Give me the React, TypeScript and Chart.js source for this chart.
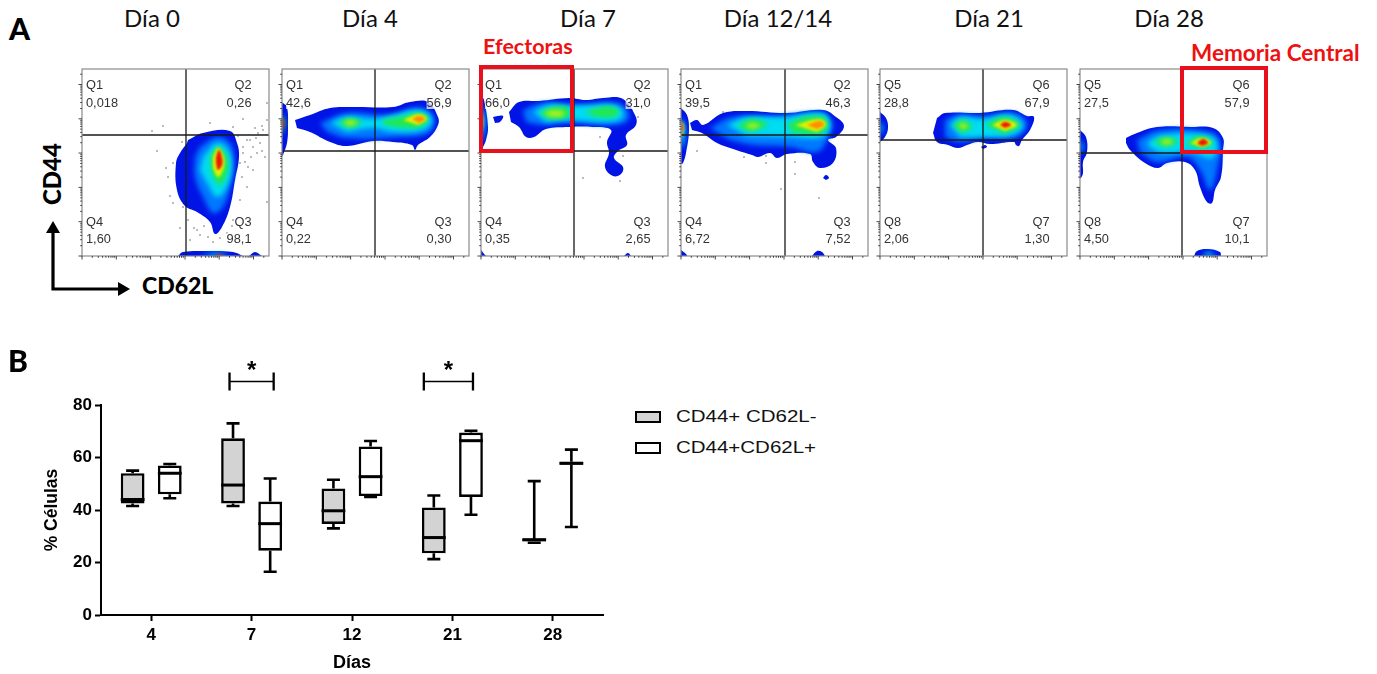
import React, { useEffect, useRef } from "react";
import { Chart, registerables } from "chart.js";

type Pt = [number, number];
type Blob = [string, Pt[]];

// ---------- Panel A: flow cytometry data (CD62L on x, CD44 on y, both on a 0-187 display scale) ----------
const levelColors: Record<string, string> = {
  blue: "#0014e6", mid: "#0078ff", cyan: "#00dcf0", green: "#20e850", lime: "#a8f020", yellow: "#e6f000", orange: "#ff9000", red: "#ee1800",
};
const levelBlur: Record<string, number> = { blue: 0, mid: 2.5, cyan: 2.5, green: 2, lime: 2, yellow: 1.5, orange: 1.2, red: 1.2 };

const day0Blobs: Blob[] = [
  ["blue", [[106,116],[121,123],[148,125],[155,113],[157,99],[153,76],[148,49],[140,29],[133,22],[128,34],[115,44],[103,50],[95,66],[94,93],[98,103],[105,113]]],
  ["mid", [[118,109],[135,119],[148,113],[152,96],[149,73],[141,49],[131,43],[121,59],[113,79],[113,99]]],
  ["cyan", [[121,99],[135,113],[146,106],[150,89],[145,69],[135,59],[125,73],[118,86]]],
  ["green", [[128,99],[136,109],[145,99],[145,83],[138,71],[130,81]]],
  ["yellow", [[131,99],[136,108],[142,98],[141,86],[136,79],[131,88]]],
  ["red", [[134,99],[137,106],[140,98],[140,91],[136,86],[134,93]]],
  ["blue", [[96,0],[101,4],[125,5],[151,4],[161,0]]],
  ["cyan", [[118,0],[135,3],[148,0]]],
  ["red", [[133,0],[137,2],[142,0]]],
  ["blue", [[167,0],[173,4],[180,0]]],
];
const day0Dots: Pt[] = [[70,125],[81,130],[75,105],[100,114],[91,93],[86,79],[91,53],[101,49],[98,28],[106,36],[115,26],[118,21],[126,19],[138,18],[145,23],[108,16],[128,133],[151,129],[161,137],[173,128],[180,130],[185,136],[185,153],[165,116],[171,109],[161,103],[178,113],[183,99],[166,89],[160,79],[175,103],[165,69],[158,56],[185,54],[151,36],[161,109],[168,116],[181,126],[158,93],[171,86],[176,123],[88,60],[84,88],[163,94],[169,99],[174,118],[180,105],[156,120],[112,28],[122,30],[131,14],[150,30]];

const day4Blobs: Blob[] = [
  ["blue", [[1,153],[5,149],[6,129],[5,113],[1,101],[0,100],[0,153]]],
  ["green", [[0,143],[3,134],[0,119]]],
  ["red", [[0,139],[2,133],[0,124]]],
  ["blue", [[13,136],[28,141],[48,148],[71,149],[111,149],[128,154],[146,154],[156,139],[156,131],[148,119],[136,111],[133,106],[130,111],[111,114],[91,115],[65,110],[48,114],[28,124],[15,128]]],
  ["mid", [[38,133],[65,143],[108,141],[135,148],[151,141],[148,124],[118,119],[65,118],[45,124]]],
  ["cyan", [[48,133],[65,139],[91,137],[111,141],[138,146],[150,136],[141,126],[111,124],[91,128],[65,124]]],
  ["green", [[56,133],[68,138],[80,133],[68,128]]],
  ["green", [[101,136],[118,139],[138,143],[146,137],[138,129],[115,129],[101,132]]],
  ["lime", [[61,133],[68,136],[75,133],[68,130]]],
  ["yellow", [[121,136],[137,142],[145,137],[136,131]]],
  ["orange", [[130,137],[137,140],[143,137],[137,133]]],
];
const day7Blobs: Blob[] = [
  ["blue", [[0,161],[3,156],[7,129],[5,116],[2,109],[0,106]]],
  ["cyan", [[0,154],[4,136],[2,119],[0,114]]],
  ["yellow", [[0,146],[2,134],[0,124]]],
  ["red", [[0,138],[1,133],[0,128]]],
  ["blue", [[12,139],[22,140],[19,134],[14,133]]],
  ["blue", [[28,144],[38,154],[58,155],[88,158],[105,156],[122,158],[142,157],[154,141],[155,131],[145,121],[146,111],[137,105],[133,98],[142,89],[140,82],[132,80],[124,89],[128,103],[126,114],[130,126],[112,129],[88,129],[65,127],[53,119],[45,119],[38,129],[30,134]]],
  ["mid", [[42,146],[62,153],[88,152],[105,151],[128,154],[145,148],[147,136],[132,131],[88,133],[62,131],[45,134]]],
  ["cyan", [[52,144],[68,151],[88,150],[115,151],[138,149],[142,139],[128,134],[88,136],[65,134]]],
  ["green", [[58,143],[72,149],[87,148],[87,139],[68,137]]],
  ["green", [[105,144],[115,148],[132,149],[138,144],[132,139],[115,139]]],
  ["lime", [[63,143],[72,146],[83,144],[82,140],[70,139]]],
  ["blue", [[0,6],[4,1],[5,0],[0,0]]],
  ["blue", [[143,0],[147,3],[150,0]]],
];
const day7Dots: Pt[] = [[102,78],[139,75],[157,139],[119,119],[142,100]];

const day12Blobs: Blob[] = [
  ["blue", [[0,148],[6,141],[8,126],[5,103],[2,93],[0,92]]],
  ["cyan", [[0,139],[4,129],[3,113],[0,106]]],
  ["yellow", [[0,136],[3,129],[0,116]]],
  ["red", [[0,133],[2,129],[0,123]]],
  ["blue", [[9,133],[16,136],[22,131],[42,143],[66,145],[106,143],[142,146],[155,139],[163,130],[155,119],[147,116],[155,108],[152,93],[139,88],[132,94],[129,102],[106,102],[96,98],[89,103],[77,99],[71,101],[55,106],[36,113],[21,123],[11,126]]],
  ["mid", [[29,128],[52,139],[89,139],[136,143],[151,134],[146,116],[136,104],[109,109],[72,111],[49,116]]],
  ["cyan", [[46,131],[66,139],[106,139],[142,143],[149,131],[142,119],[106,119],[66,120]]],
  ["green", [[56,130],[71,137],[86,131],[69,124]]],
  ["green", [[106,131],[119,138],[142,139],[147,131],[139,122],[112,123]]],
  ["lime", [[64,130],[71,133],[79,130],[71,127]]],
  ["yellow", [[114,131],[139,137],[145,131],[136,124]]],
  ["orange", [[126,131],[139,135],[143,131],[136,127]]],
  ["blue", [[142,78],[145,81],[148,78],[145,76]]],
  ["blue", [[0,6],[5,2],[6,0],[0,0]]],
  ["blue", [[131,0],[136,5],[141,4],[144,0]]],
];
const day12Dots: Pt[] = [[42,144],[16,105],[63,99],[85,93],[114,82],[100,67],[138,58],[114,94],[85,100]];

const day21Blobs: Blob[] = [
  ["blue", [[0,144],[6,138],[8,128],[5,119],[0,114]]],
  ["cyan", [[0,136],[3,128],[0,119]]],
  ["blue", [[57,138],[65,143],[100,143],[133,146],[147,140],[154,139],[150,126],[142,116],[139,110],[136,111],[134,114],[110,112],[98,114],[87,111],[78,108],[68,111],[57,114],[53,123]]],
  ["mid", [[65,136],[77,141],[103,140],[133,143],[147,133],[137,119],[103,118],[80,114],[65,119]]],
  ["cyan", [[70,131],[80,139],[103,137],[130,141],[143,131],[132,121],[103,119],[80,119]]],
  ["green", [[73,130],[82,136],[92,129],[82,123]]],
  ["green", [[105,131],[123,139],[140,131],[125,122]]],
  ["lime", [[78,130],[83,133],[88,129],[83,127]]],
  ["yellow", [[112,131],[125,136],[137,131],[125,125]]],
  ["red", [[120,131],[125,134],[131,131],[125,128]]],
  ["blue", [[101,109],[105,111],[107,109],[103,107]]],
];
const day28Blobs: Blob[] = [
  ["blue", [[0,126],[6,119],[7,104],[3,94],[3,83],[1,78],[0,78]]],
  ["cyan", [[0,118],[3,109],[0,101]]],
  ["blue", [[46,118],[57,123],[77,129],[110,129],[133,128],[143,118],[143,106],[141,79],[135,66],[132,53],[127,54],[120,69],[115,86],[105,94],[87,93],[78,88],[65,93],[50,106],[46,113]]],
  ["mid", [[57,116],[80,126],[130,124],[140,114],[137,86],[130,66],[120,86],[107,99],[77,94],[60,104]]],
  ["cyan", [[67,114],[83,121],[127,121],[137,113],[132,98],[110,104],[83,103],[70,108]]],
  ["green", [[73,114],[85,119],[98,114],[85,109]]],
  ["green", [[105,113],[120,120],[133,113],[122,107]]],
  ["lime", [[80,114],[87,117],[93,114],[86,111]]],
  ["yellow", [[110,113],[122,118],[131,113],[122,109]]],
  ["red", [[117,113],[123,117],[128,113],[122,110]]],
  ["blue", [[114,0],[117,5],[128,7],[140,4],[141,0]]],
  ["cyan", [[122,0],[128,4],[137,0]]],
];

const dayTitles = ["Día 0", "Día 4", "Día 7", "Día 12/14", "Día 21", "Día 28"];
const titleCenters = [152, 370, 588, 778, 989, 1169];
const panelLefts = [82, 282, 481, 681, 880, 1080];
const gateNames = [["Q1","Q2","Q3","Q4"],["Q1","Q2","Q3","Q4"],["Q1","Q2","Q3","Q4"],["Q1","Q2","Q3","Q4"],["Q5","Q6","Q7","Q8"],["Q5","Q6","Q7","Q8"]];
const gateValues = [
  ["0,018","0,26","98,1","1,60"],
  ["42,6","56,9","0,30","0,22"],
  ["66,0","31,0","2,65","0,35"],
  ["39,5","46,3","7,52","6,72"],
  ["28,8","67,9","1,30","2,06"],
  ["27,5","57,9","10,1","4,50"],
];
const gateX = [104, 93, 93, 104, 103, 102];
const gateY = [121, 105, 105, 121, 116, 103];
const panelBlobs = [day0Blobs, day4Blobs, day7Blobs, day12Blobs, day21Blobs, day28Blobs];
const panelDots: Pt[][] = [day0Dots, [], day7Dots, day12Dots, [], []];

// ---------- Panel B: box plot ----------
const dayCategories = ["4", "7", "12", "21", "28"];
const effLow = [41.5, 41.5, 33, 21.3, 27.5];
const effQ1 = [42.5, 42.5, 34.7, 23.5, 28];
const effMed = [44, 49.5, 39.7, 29.5, 28.7];
const effQ3 = [54, 67.3, 48.2, 41, 29];
const effHigh = [55, 73, 51.5, 45.5, 51];
const memLow = [44.5, 16.5, 45, 38.2, 33.5];
const memQ1 = [46, 24.5, 45.3, 45, 57.2];
const memMed = [54, 34.8, 52.7, 66.4, 57.8];
const memQ3 = [57, 43.2, 64.2, 69.5, 58.4];
const memHigh = [57.5, 52, 66.3, 70.2, 63];
const sigCategories = ["7", "21"];
const sigLevel = 89;
const legendLabels = ["CD44+ CD62L-", "CD44+CD62L+"];
const legendFills = ["#d3d3d3", "#ffffff"];

// ---------- Plugins ----------
const blurPlugin = {
  id: "contourBlur",
  beforeDatasetDraw(chart: any, args: any) {
    const b = chart.data.datasets[args.index].blur;
    if (b) chart.ctx.filter = `blur(${b}px)`;
  },
  afterDatasetDraw(chart: any) {
    chart.ctx.filter = "none";
  },
};
Chart.register(blurPlugin);
Chart.register(...registerables);

const decadeTicks: number[] = [0, 34.3, 68.6, 103, 137.2, 171.5];
const minorOffsets = [10.3, 16.3, 20.6, 23.9, 26.6, 28.9, 30.9, 32.7];

const flowPlugin = (idx: number) => ({
  id: "flowFrame",
  afterDatasetsDraw(chart: any) {
    const { ctx, chartArea: a, scales } = chart;
    const X = scales.x, Y = scales.y;
    ctx.save();
    // gates
    ctx.strokeStyle = "#1a1a1a";
    ctx.lineWidth = 1.3;
    ctx.beginPath();
    ctx.moveTo(X.getPixelForValue(gateX[idx]), a.top);
    ctx.lineTo(X.getPixelForValue(gateX[idx]), a.bottom);
    ctx.moveTo(a.left, Y.getPixelForValue(gateY[idx]));
    ctx.lineTo(a.right, Y.getPixelForValue(gateY[idx]));
    ctx.stroke();
    // frame
    ctx.strokeStyle = "#8a8a8a";
    ctx.lineWidth = 1.2;
    ctx.strokeRect(a.left, a.top, a.right - a.left, a.bottom - a.top);
    // log ticks
    ctx.strokeStyle = "#333";
    ctx.lineWidth = 0.9;
    ctx.beginPath();
    for (const d of decadeTicks) {
      const xp = X.getPixelForValue(d), yp = Y.getPixelForValue(d);
      ctx.moveTo(xp, a.bottom); ctx.lineTo(xp, a.bottom + 3.5);
      ctx.moveTo(a.left, yp); ctx.lineTo(a.left - 3.5, yp);
      for (const m of minorOffsets) {
        if (d + m > 187) continue;
        const xm = X.getPixelForValue(d + m), ym = Y.getPixelForValue(d + m);
        ctx.moveTo(xm, a.bottom); ctx.lineTo(xm, a.bottom + 1.8);
        ctx.moveTo(a.left, ym); ctx.lineTo(a.left - 1.8, ym);
      }
    }
    ctx.stroke();
    // labels
    ctx.font = "12.8px 'Liberation Sans'";
    ctx.textBaseline = "middle";
    const put = (t: string, x: number, y: number, align: CanvasTextAlign) => {
      ctx.textAlign = align;
      const w = ctx.measureText(t).width;
      ctx.fillStyle = "rgba(255,255,255,0.72)";
      const px = X.getPixelForValue(x), py = Y.getPixelForValue(y);
      ctx.fillRect(align === "left" ? px : px - w, py - 6, w, 12);
      ctx.fillStyle = "#333";
      ctx.fillText(t, px, py);
    };
    const [n1, n2, n3, n4] = gateNames[idx];
    const [v1, v2, v3, v4] = gateValues[idx];
    put(n1, 4, 171, "left"); put(v1, 4, 153, "left");
    put(n2, 169.5, 171, "right"); put(v2, 169.5, 153, "right");
    put(n3, 169.5, 34, "right"); put(v3, 169.5, 17, "right");
    put(n4, 4, 34, "left"); put(v4, 4, 17, "left");
    ctx.restore();
  },
});

const boxPlugin = {
  id: "boxParts",
  afterDatasetsDraw(chart: any) {
    const { ctx, scales } = chart;
    const Y = scales.y;
    ctx.save();
    ctx.strokeStyle = "#000";
    const sets = [
      { low: effLow, q1: effQ1, med: effMed, q3: effQ3, high: effHigh },
      { low: memLow, q1: memQ1, med: memMed, q3: memQ3, high: memHigh },
    ];
    sets.forEach((s, di) => {
      chart.getDatasetMeta(di).data.forEach((bar: any, i: number) => {
        const x = bar.x, hw = bar.width / 2, cap = 6.5;
        ctx.lineWidth = 2.6;
        ctx.beginPath();
        ctx.moveTo(x, Y.getPixelForValue(s.q3[i])); ctx.lineTo(x, Y.getPixelForValue(s.high[i]));
        ctx.moveTo(x - cap, Y.getPixelForValue(s.high[i])); ctx.lineTo(x + cap, Y.getPixelForValue(s.high[i]));
        ctx.moveTo(x, Y.getPixelForValue(s.q1[i])); ctx.lineTo(x, Y.getPixelForValue(s.low[i]));
        ctx.moveTo(x - cap, Y.getPixelForValue(s.low[i])); ctx.lineTo(x + cap, Y.getPixelForValue(s.low[i]));
        ctx.stroke();
        ctx.lineWidth = 3;
        ctx.beginPath();
        ctx.moveTo(x - hw, Y.getPixelForValue(s.med[i])); ctx.lineTo(x + hw, Y.getPixelForValue(s.med[i]));
        ctx.stroke();
      });
    });
    // significance brackets
    const padLeft = [3.5, 10], padRight = [3.5, 2];
    sigCategories.forEach((c, k) => {
      const i = dayCategories.indexOf(c);
      const xa = chart.getDatasetMeta(0).data[i].x - padLeft[k], xb = chart.getDatasetMeta(1).data[i].x + padRight[k];
      const y = Y.getPixelForValue(sigLevel);
      ctx.lineWidth = 1.5;
      ctx.beginPath();
      ctx.moveTo(xa, y); ctx.lineTo(xb, y);
      ctx.stroke();
      ctx.lineWidth = 2.3;
      ctx.beginPath();
      ctx.moveTo(xa, y - 9); ctx.lineTo(xa, y + 9);
      ctx.moveTo(xb, y - 9); ctx.lineTo(xb, y + 9);
      ctx.stroke();
      ctx.fillStyle = "#000";
      ctx.font = "bold 24px 'Liberation Sans'";
      ctx.textAlign = "center";
      ctx.textBaseline = "middle";
      ctx.fillText("*", (xa + xb) / 2, y - 10);
    });
    ctx.restore();
  },
};

function FlowPanel({ idx }: { idx: number }) {
  const ref = useRef<HTMLCanvasElement>(null);
  useEffect(() => {
    const datasets: any[] = panelBlobs[idx].map(([lvl, pts], i) => ({
      type: "scatter",
      data: pts.map(([x, y]) => ({ x, y })),
      showLine: true,
      tension: 0.4,
      fill: "shape",
      backgroundColor: levelColors[lvl],
      borderWidth: 0,
      pointRadius: 0,
      blur: levelBlur[lvl],
      order: -i,
    }));
    if (panelDots[idx].length) {
      datasets.push({
        type: "scatter",
        data: panelDots[idx].map(([x, y]) => ({ x, y })),
        pointRadius: 0.7,
        borderWidth: 0,
        backgroundColor: "#444",
        order: 1,
      });
    }
    const chart = new Chart(ref.current as HTMLCanvasElement, {
      type: "scatter",
      data: { datasets },
      options: {
        animation: false,
        responsive: false,
        devicePixelRatio: 1,
        layout: { autoPadding: false, padding: { left: 5, right: 1, top: 1, bottom: 5 } },
        plugins: { legend: { display: false }, tooltip: { enabled: false } },
        scales: {
          x: { type: "linear", min: 0, max: 187, display: false },
          y: { type: "linear", min: 0, max: 187, display: false },
        },
      },
      plugins: [flowPlugin(idx)],
    } as any);
    return () => chart.destroy();
  }, [idx]);
  return <canvas ref={ref} width={193} height={193} style={{ position: "absolute", left: panelLefts[idx] - 5, top: 68 }} />;
}

function BoxChart() {
  const ref = useRef<HTMLCanvasElement>(null);
  useEffect(() => {
    const chart = new Chart(ref.current as HTMLCanvasElement, {
      type: "bar",
      data: {
        labels: dayCategories,
        datasets: [
          { label: legendLabels[0], data: effQ1.map((v, i) => [v, effQ3[i]]), backgroundColor: legendFills[0], borderColor: "#000", borderWidth: 2.6, borderSkipped: false, categoryPercentage: 0.74, barPercentage: 0.64 },
          { label: legendLabels[1], data: memQ1.map((v, i) => [v, memQ3[i]]), backgroundColor: legendFills[1], borderColor: "#000", borderWidth: 2.6, borderSkipped: false, categoryPercentage: 0.74, barPercentage: 0.64 },
        ],
      },
      options: {
        animation: false,
        responsive: false,
        devicePixelRatio: 1,
        layout: { padding: { top: 65, right: 17, left: 0, bottom: 0 } },
        plugins: { legend: { display: false }, tooltip: { enabled: false } },
        scales: {
          x: {
            offset: true,
            grid: { offset: false, drawOnChartArea: false, tickLength: 6, tickWidth: 2, tickColor: "#000" },
            border: { display: true, width: 2, color: "#000" },
            ticks: { color: "#000", font: { family: "'Liberation Sans'", weight: "bold", size: 17 }, padding: 4, maxRotation: 0 },
            title: { display: true, text: "Días", color: "#000", font: { family: "'Liberation Sans'", weight: "bold", size: 18 }, padding: { top: 9, bottom: 0 } },
            afterFit: (s: any) => { s.height = 59; },
          },
          y: {
            min: 0,
            max: 80,
            grid: { drawOnChartArea: false, tickLength: 6, tickWidth: 2, tickColor: "#000" },
            border: { display: true, width: 2, color: "#000" },
            ticks: { stepSize: 20, color: "#000", font: { family: "'Liberation Sans'", weight: "bold", size: 17 }, padding: 3 },
            title: { display: true, text: "% Células", color: "#000", font: { family: "'Liberation Sans'", weight: "bold", size: 17.5 }, padding: { top: 42, bottom: 0 } },
            afterFit: (s: any) => { s.width = 101; },
          },
        },
      },
      plugins: [boxPlugin],
    } as any);
    return () => chart.destroy();
  }, []);
  return <canvas ref={ref} width={620} height={334} style={{ position: "absolute", left: 0, top: 340 }} />;
}

const textStyle = (left: number, top: number, font: string, size: number, color = "#000", weight = 400): React.CSSProperties => ({
  position: "absolute", left, top, fontFamily: font, fontSize: size, color, fontWeight: weight, whiteSpace: "nowrap", lineHeight: 1,
});

export default function App() {
  return (
    <div style={{ position: "absolute", left: 0, top: 0, width: 1377, height: 674, overflow: "hidden", background: "#fff" }}>
      {dayTitles.map((t, i) => (
        <div key={t} style={{ ...textStyle(titleCenters[i] - 100, 6, "Lato", 24, "#111"), width: 200, textAlign: "center" }}>{t}</div>
      ))}
      {panelLefts.map((_, i) => <FlowPanel key={i} idx={i} />)}
      <BoxChart />
      <div style={textStyle(9, 13, "Lato", 30, "#000", 900)}>A</div>
      <div style={textStyle(8, 345, "Lato", 30, "#000", 900)}>B</div>
      <div style={textStyle(483, 36, "Lato", 21.5, "#ee1111", 700)}>Efectoras</div>
      <div style={textStyle(1191, 42, "Lato", 22.5, "#ee1111", 700)}>Memoria Central</div>
      <div style={{ position: "absolute", left: 479, top: 65, width: 95, height: 88, boxSizing: "border-box", border: "4.5px solid #e8101c" }} />
      <div style={{ position: "absolute", left: 1180, top: 66, width: 88, height: 88, boxSizing: "border-box", border: "4.5px solid #e8101c" }} />
      <div style={{ ...textStyle(142, 274, "Lato", 23, "#000", 900) }}>CD62L</div>
      <div style={{ ...textStyle(52, 174, "Lato", 24, "#000", 900), transform: "translate(-50%,-50%) rotate(-90deg)" }}>CD44</div>
      <svg width={140} height={90} style={{ position: "absolute", left: 40, top: 215 }}>
        <path d="M13 12V74H78" fill="none" stroke="#000" strokeWidth={3.2} />
        <path d="M13 6L20 18H6Z M90 74L78 67V81Z" fill="#000" />
      </svg>
      {legendLabels.map((t, i) => (
        <React.Fragment key={t}>
          <div style={{ position: "absolute", left: 635, top: 411 + i * 30.5, width: 26, height: 12, boxSizing: "border-box", border: "2px solid #000", background: legendFills[i] }} />
          <div style={{ ...textStyle(676, 409 + i * 30.5, "Liberation Sans", 16, "#111"), transform: "scaleX(1.28)", transformOrigin: "left" }}>{t}</div>
        </React.Fragment>
      ))}
    </div>
  );
}
